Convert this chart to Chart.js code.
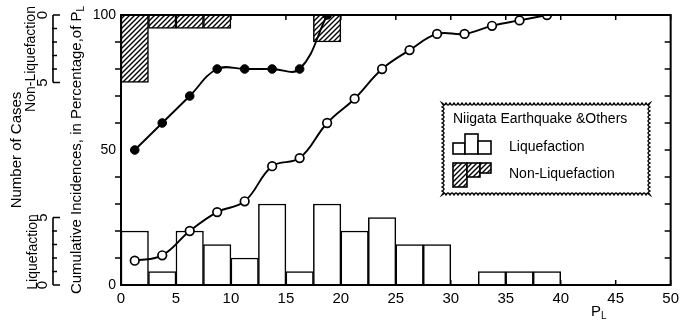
<!DOCTYPE html>
<html><head><meta charset="utf-8">
<script src="https://cdn.jsdelivr.net/npm/chart.js@4.4.1/dist/chart.umd.min.js"></script>
<style>html,body{margin:0;padding:0;background:#fff;}canvas{display:block;}</style>
</head><body>
<canvas id="c" width="684" height="321"></canvas>
<script>
// ---- data ----
const binCenters    = [1.25,3.75,6.25,8.75,11.25,13.75,16.25,18.75,21.25,23.75,26.25,28.75,31.25,33.75,36.25,38.75];
const liqCounts     = [4,1,4,3,2,6,1,6,4,5,3,3,0,1,1,1];
const nonLiqCounts  = [5,1,1,1,0,0,0,2,0,0,0,0,0,0,0,0];
const liqCumPct     = [9,11,20,27,31,44,47,60,69,80,87,93,93,96,98,100];
const nonLiqCumX    = [1.25,3.75,6.25,8.75,11.25,13.75,16.25,18.75];
const nonLiqCumPct  = [50,60,70,80,80,80,80,100];
const xTickValues   = [0,5,10,15,20,25,30,35,40,45,50];
const yTickValues   = [0,50,100];
const yMinorTicks   = [0,10,20,30,40,50,60,70,80,90,100];
const caseTicks     = [0,1,2,3,4,5];

const FONT = '"Liberation Sans", Arial, sans-serif';
const canvas = document.getElementById('c');
const ctx0 = canvas.getContext('2d');

function makeHatch(){
  const c = document.createElement('canvas'); c.width = 5; c.height = 5;
  const g = c.getContext('2d');
  g.fillStyle = '#fff'; g.fillRect(0,0,5,5);
  g.strokeStyle = '#000'; g.lineWidth = 1.4;
  g.beginPath();
  g.moveTo(-1,6); g.lineTo(6,-1);
  g.moveTo(-1,1); g.lineTo(1,-1);
  g.moveTo(4,6); g.lineTo(6,4);
  g.stroke();
  return ctx0.createPattern(c,'repeat');
}
const hatch = makeHatch();

const toXY = (xs, ys) => xs.map((x,i)=>({x:x, y:ys[i]}));
const nonZero = (xs, ys) => xs.map((x,i)=>({x:x, y:ys[i]})).filter(p=>p.y>0);

function wavyRect(ctx,l,t,r,b,amp,wl){
  ctx.beginPath();
  const edge=(x0,y0,x1,y1,first)=>{
    const len=Math.hypot(x1-x0,y1-y0), n=Math.round(len*2);
    const ux=(x1-x0)/len, uy=(y1-y0)/len, nx=-uy, ny=ux;
    for(let i=0;i<=n;i++){
      const s=i*len/n, o=amp*Math.abs(Math.sin(Math.PI*s/wl));
      const px=x0+ux*s+nx*o, py=y0+uy*s+ny*o;
      if(first&&i===0) ctx.moveTo(px,py); else ctx.lineTo(px,py);
    }
  };
  edge(l,t,r,t,true); edge(r,t,r,b); edge(r,b,l,b); edge(l,b,l,t);
  ctx.closePath();
}

function vtext(ctx,str,cx,cy,font,align){
  ctx.save(); ctx.translate(cx,cy); ctx.rotate(-Math.PI/2);
  ctx.font=font; ctx.textAlign=align||'center'; ctx.textBaseline='middle';
  ctx.fillText(str,0,0); ctx.restore();
}

const deco = {
  id:'deco',
  afterDraw(chart){
    const ctx=chart.ctx, ca=chart.chartArea;
    const sx=chart.scales.x, sy=chart.scales.y, sL=chart.scales.yLiq, sN=chart.scales.yNon;
    ctx.save();
    ctx.strokeStyle='#000'; ctx.fillStyle='#000';
    // frame
    ctx.lineWidth=2;
    ctx.strokeRect(ca.left, ca.top, ca.right-ca.left, ca.bottom-ca.top);
    // minor ticks on left (outward) and right (inward), x ticks inward
    ctx.lineWidth=1.5;
    ctx.beginPath();
    yMinorTicks.forEach(v=>{
      const py=sy.getPixelForValue(v);
      if(!yTickValues.includes(v)){ ctx.moveTo(ca.left-6,py); ctx.lineTo(ca.left,py); }
      ctx.moveTo(ca.right-6,py); ctx.lineTo(ca.right,py);
    });
    xTickValues.forEach(v=>{
      const px=sx.getPixelForValue(v);
      ctx.moveTo(px,ca.top); ctx.lineTo(px,ca.top+5);
      ctx.moveTo(px,ca.bottom); ctx.lineTo(px,ca.bottom-5);
    });
    ctx.stroke();

    // small case-count axes on the left
    const bx=53;
    [sN,sL].forEach(sc=>{
      ctx.lineWidth=1.6;
      ctx.beginPath();
      const p0=sc.getPixelForValue(caseTicks[0]), p1=sc.getPixelForValue(caseTicks[caseTicks.length-1]);
      ctx.moveTo(bx,p0); ctx.lineTo(bx,p1);
      caseTicks.forEach((v,i)=>{
        const py=sc.getPixelForValue(v);
        const end=(i===0||i===caseTicks.length-1);
        ctx.moveTo(end?bx:bx-1,py); ctx.lineTo(end?bx+7:bx+4,py);
      });
      ctx.stroke();
      vtext(ctx,String(caseTicks[0]),43,p0,'15px '+FONT);
      vtext(ctx,String(caseTicks[caseTicks.length-1]),43,p1,'15px '+FONT);
    });

    // left titles
    vtext(ctx,'Number of Cases',17,150,'15px '+FONT);
    vtext(ctx,'Non-Liquefaction',31,59,'14px '+FONT);
    vtext(ctx,'Liquefaction',33,252,'14px '+FONT);

    // main y title with subscript
    ctx.save();
    ctx.translate(77,150); ctx.rotate(-Math.PI/2);
    ctx.textBaseline='middle'; ctx.textAlign='left';
    const t1='Cumulative Incidences, in Percentage,of P';
    ctx.font='15px '+FONT; const w1=ctx.measureText(t1).width;
    ctx.font='10px '+FONT; const w2=ctx.measureText('L').width;
    const st=-(w1+w2)/2;
    ctx.font='15px '+FONT; ctx.fillText(t1,st,0);
    ctx.font='10px '+FONT; ctx.fillText('L',st+w1,4);
    ctx.restore();

    // x title P_L
    ctx.textBaseline='middle'; ctx.textAlign='left';
    ctx.font='15px '+FONT; ctx.fillText('P',591,312);
    ctx.font='10px '+FONT; ctx.fillText('L',601,316);

    // legend box
    const L=442,T=103,R=650,B=195;
    wavyRect(ctx,L,T,R,B,2,4);
    ctx.fillStyle='#fff'; ctx.fill();
    ctx.lineWidth=1.4; ctx.strokeStyle='#000'; ctx.stroke();
    ctx.fillStyle='#000';
    ctx.font='14px '+FONT; ctx.textBaseline='middle'; ctx.textAlign='left';
    ctx.fillText('Niigata Earthquake &Others',453,119);
    ctx.fillText('Liquefaction',509,147);
    ctx.fillText('Non-Liquefaction',509,174);
    // liquefaction icon
    ctx.lineWidth=1.6;
    [[453,143,12,11],[465,134,13,20],[478,141,13,13]].forEach(r=>{
      ctx.fillStyle='#fff'; ctx.fillRect(...r); ctx.strokeRect(...r);
    });
    // non-liquefaction icon
    [[453,163,14,24],[467,163,13,14],[480,163,11,10]].forEach(r=>{
      ctx.fillStyle=hatch; ctx.fillRect(...r); ctx.strokeRect(...r);
    });
    ctx.restore();
  }
};

new Chart(canvas,{
  type:'bar',
  data:{
    datasets:[
      {type:'line', label:'Non-Liquefaction cumulative', data:toXY(nonLiqCumX,nonLiqCumPct), yAxisID:'y',
       borderColor:'#000', borderWidth:1.9, tension:0.4, fill:false,
       pointRadius:4.3, pointBackgroundColor:'#000', pointBorderColor:'#000', pointBorderWidth:1, order:1},
      {type:'line', label:'Liquefaction cumulative', data:toXY(binCenters,liqCumPct), yAxisID:'y',
       borderColor:'#000', borderWidth:1.9, tension:0.4, fill:false,
       pointRadius:4.3, pointBackgroundColor:'#fff', pointBorderColor:'#000', pointBorderWidth:1.7, order:1},
      {type:'bar', label:'Liquefaction', data:nonZero(binCenters,liqCounts), yAxisID:'yLiq',
       backgroundColor:'#fff', borderColor:'#000', borderWidth:1.5, borderSkipped:'start',
       barPercentage:1, categoryPercentage:1, grouped:false, order:2},
      {type:'bar', label:'Non-Liquefaction', data:nonZero(binCenters,nonLiqCounts), yAxisID:'yNon',
       backgroundColor:hatch, borderColor:'#000', borderWidth:1.5, borderSkipped:'start',
       barPercentage:1, categoryPercentage:1, grouped:false, order:2}
    ]
  },
  options:{
    responsive:false, animation:false, devicePixelRatio:1,
    layout:{padding:{left:91,top:15,right:12,bottom:0}},
    plugins:{legend:{display:false}, tooltip:{enabled:false}},
    scales:{
      x:{type:'linear', min:0, max:50, offset:false,
         grid:{display:false, drawTicks:false}, border:{display:false},
         afterBuildTicks:s=>{s.ticks=xTickValues.map(v=>({value:v}));},
         afterFit:s=>{s.height=36;},
         ticks:{color:'#000', font:{family:FONT,size:15}, padding:5, maxRotation:0, autoSkip:false}},
      y:{type:'linear', position:'left', min:0, max:100,
         grid:{display:false, drawTicks:false}, border:{display:false},
         afterBuildTicks:s=>{s.ticks=yTickValues.map(v=>({value:v}));},
         afterFit:s=>{s.width=30;},
         ticks:{color:'#000', font:{family:FONT,size:14}, padding:5}},
      yLiq:{type:'linear', display:false, min:0, max:20},
      yNon:{type:'linear', display:false, min:0, max:20, reverse:true}
    }
  },
  plugins:[deco]
});
</script>
</body></html>
